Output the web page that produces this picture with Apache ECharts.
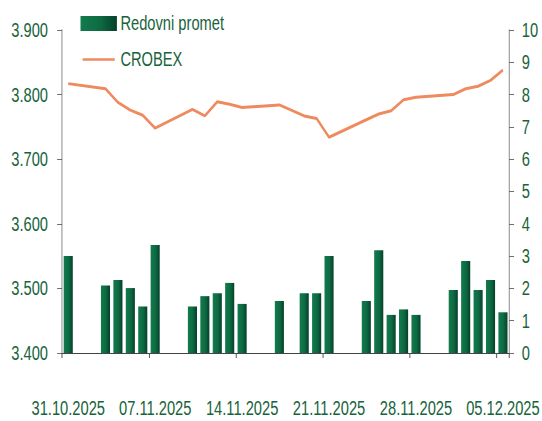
<!DOCTYPE html>
<html>
<head>
<meta charset="utf-8">
<script src="https://cdn.jsdelivr.net/npm/echarts@6/dist/echarts.min.js"></script>
<style>
  html, body { margin: 0; padding: 0; background: #fff; overflow: hidden; }
  #wrap { width: 542px; height: 421px; overflow: hidden; }
  /* original graphic uses a tall, narrow typeface: draw wide and squeeze horizontally */
  #chart { width: 774px; height: 421px; transform: scaleX(0.7); transform-origin: 0 0; }
</style>
</head>
<body>
<div id="wrap"><div id="chart"></div></div>
<script>
var chartDom = document.getElementById('chart');
var myChart = echarts.init(chartDom, null, { renderer: 'svg' });

// dani od 31.10. do 05.12.2025 (vikendi i praznici bez prometa)
var dates = [
  '31.10.2025', '01.11.2025', '02.11.2025', '03.11.2025', '04.11.2025', '05.11.2025', '06.11.2025',
  '07.11.2025', '08.11.2025', '09.11.2025', '10.11.2025', '11.11.2025', '12.11.2025', '13.11.2025',
  '14.11.2025', '15.11.2025', '16.11.2025', '17.11.2025', '18.11.2025', '19.11.2025', '20.11.2025',
  '21.11.2025', '22.11.2025', '23.11.2025', '24.11.2025', '25.11.2025', '26.11.2025', '27.11.2025',
  '28.11.2025', '29.11.2025', '30.11.2025', '01.12.2025', '02.12.2025', '03.12.2025', '04.12.2025',
  '05.12.2025'
];
// redovni promet (mil. EUR), desna os
var promet = [
  3.0, null, null, 2.09, 2.26, 2.01, 1.44,
  3.34, null, null, 1.44, 1.76, 1.85, 2.17,
  1.52, null, null, 1.61, null, 1.85, 1.85,
  3.0, null, null, 1.61, 3.18, 1.18, 1.35,
  1.18, null, null, 1.95, 2.85, 1.95, 2.26,
  1.26
];
// CROBEX, lijeva os
var crobex = [
  3817, null, null, 3809, 3788, 3776, 3768,
  3748, null, null, 3777, 3767, 3789, 3785,
  3780, null, null, 3784, null, 3767, 3763,
  3734, null, null, 3761, 3770, 3775, 3792,
  3796, null, null, 3800, 3809, 3813, 3822,
  3838
];
var leftTicks = [3400, 3500, 3600, 3700, 3800, 3900];
var rightTicks = [0, 1, 2, 3, 4, 5, 6, 7, 8, 9, 10];

var fontFam = '"Liberation Sans", Arial, sans-serif';
var txtColor = '#17633b';
var lineColor = '#ee8a5e';

var option = {
  animation: false,
  grid: {
    left: 88.6,
    right: 44.3,
    top: 30,
    bottom: 68,
    containLabel: false
  },
  legend: {
    orient: 'vertical',
    left: 110,
    top: 8,
    itemWidth: 52,
    itemHeight: 15,
    itemGap: 15,
    textStyle: {
      color: txtColor,
      fontSize: 21,
      fontFamily: fontFam
    },
    data: [
      { name: 'Redovni promet', icon: 'rect' },
      {
        name: 'CROBEX',
        // tanka crta, gornja i donja tocka samo drze visinu ikone
        icon: 'path://M0,0L0.01,0Z M0,7L52,7L52,10L0,10Z M0,17L0.01,17Z',
        itemStyle: { color: lineColor }
      }
    ]
  },
  xAxis: {
    type: 'category',
    data: dates,
    boundaryGap: true,
    axisLine: { lineStyle: { color: '#222', width: 1 } },
    axisTick: { show: true, interval: 6, length: 5, lineStyle: { color: '#555', width: 1.4 } },
    axisLabel: {
      interval: 6,
      showMinLabel: true,
      showMaxLabel: true,
      margin: 45,
      color: txtColor,
      fontSize: 21,
      fontFamily: fontFam
    },
    splitLine: { show: false }
  },
  yAxis: [
    {
      type: 'value',
      min: leftTicks[0],
      max: leftTicks[leftTicks.length - 1],
      interval: 100,
      axisLine: { show: true, lineStyle: { color: '#888', width: 1.4 } },
      axisTick: { show: true, length: 7, lineStyle: { color: '#555' } },
      axisLabel: {
        margin: 20,
        color: txtColor,
        fontSize: 21,
        fontFamily: fontFam,
        formatter: function (v) {
          var s = String(v);
          return s.slice(0, s.length - 3) + '.' + s.slice(-3);
        }
      },
      splitLine: { show: false }
    },
    {
      type: 'value',
      position: 'right',
      min: rightTicks[0],
      max: rightTicks[rightTicks.length - 1],
      interval: 1,
      axisLine: { show: true, lineStyle: { color: '#888', width: 1.4 } },
      axisTick: { show: true, length: 7, lineStyle: { color: '#555' } },
      axisLabel: {
        margin: 18,
        color: txtColor,
        fontSize: 21,
        fontFamily: fontFam
      },
      splitLine: { show: false }
    }
  ],
  series: [
    {
      name: 'Redovni promet',
      type: 'bar',
      yAxisIndex: 1,
      data: promet,
      barWidth: 13,
      itemStyle: {
        color: {
          type: 'linear',
          x: 0, y: 0, x2: 1, y2: 0,
          colorStops: [
            { offset: 0, color: '#127b4d' },
            { offset: 0.55, color: '#0d6a42' },
            { offset: 1, color: '#06402a' }
          ]
        }
      },
      z: 2
    },
    {
      name: 'CROBEX',
      type: 'line',
      yAxisIndex: 0,
      data: crobex,
      connectNulls: true,
      showSymbol: false,
      symbol: 'none',
      lineStyle: { color: lineColor, width: 3 },
      itemStyle: { color: lineColor },
      z: 3
    }
  ]
};

myChart.setOption(option);
window.addEventListener('resize', function () {
  myChart.resize();
});
</script>
</body>
</html>
